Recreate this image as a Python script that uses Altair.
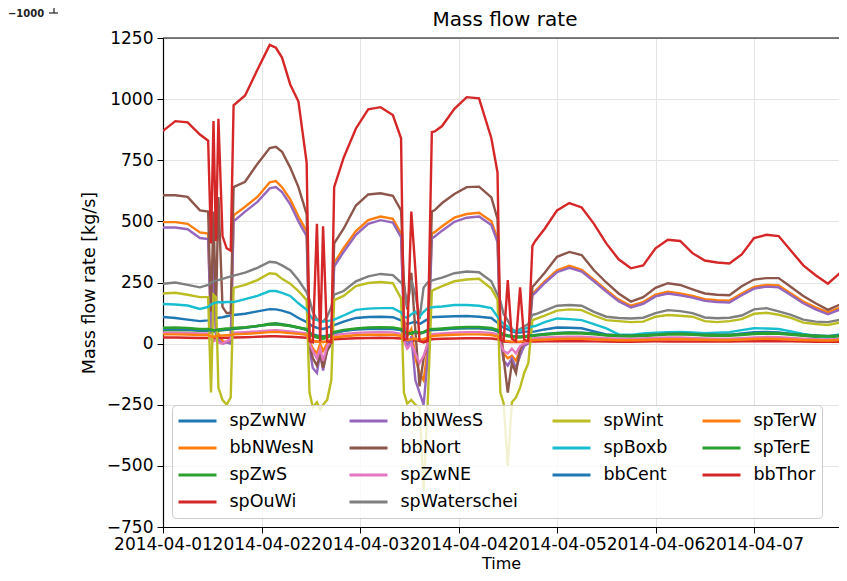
import altair as alt
import pandas as pd

# hours after 2014-04-01 00:00
HOURS = [0, 3, 6, 9, 11,
         11.7, 12.3, 12.9, 13.5, 14.5, 15.5, 16.5,
         17.2, 20, 23, 26, 27.5, 29, 31, 33, 35,
         35.7, 36.5, 37.5, 38.3, 39, 40, 41,
         41.7, 44, 47, 50, 53, 56, 58,
         58.7, 59.5, 60.5, 61.5, 62.5, 63.5, 64.5, 65.5,
         66.2, 68, 71, 74, 77, 80, 81.5,
         82.2, 83, 84, 85, 86, 87, 88, 89, 90,
         90.7, 93, 96, 99, 102, 105, 108, 111, 114, 117, 120, 123, 126, 129,
         132, 135, 138, 141, 144, 147, 150, 153, 156, 159, 162, 165, 168]

spZwNW = [109, 105, 98, 92, 95,
          100, 102, 104, 106, 108, 112, 115,
          117, 122, 132, 141, 140, 135, 125, 105, 88,
          80, 70, 65, 62, 60, 65, 72,
          76, 90, 105, 109, 110, 108, 95,
          85, 80, 85, 90, 80, 90, 100, 108,
          109, 110, 112, 113, 110, 105, 85,
          75, 65, 58, 50, 45, 45, 48, 50, 48,
          50, 58, 66, 65, 63, 50, 38, 33, 32, 35, 38, 40, 40, 38, 35, 34, 36, 42, 47, 48, 46, 40, 33, 28, 26, 32, 38]
bbNWesN = [497, 497, 490, 455, 450,
           60, 400, 50, 40, 10, 5, 10,
           525, 560, 600, 660, 665, 640, 590, 520, 460,
           10, -20, -40, 0, -30, 0, 5,
           330, 390, 460, 505, 520, 510, 450,
           100, 30, 60, -60, -120, -150, -20, 450,
           456, 480, 515, 530, 535, 500, 430,
           40, -40, -60, -50, -70, -30, 0, 5, 205,
           215, 255, 300, 318, 302, 262, 220, 180, 155, 170, 200, 212, 205, 195, 182, 178, 176, 205, 232, 240, 238, 205, 172, 148, 128, 148, 172]
spZwS = [55, 56, 55, 52, 52,
         50, 48, 50, 52, 54, 56, 58,
         60, 65, 72, 82, 84, 80, 74, 66, 55,
         40, 30, 25, 22, 20, 25, 32,
         42, 52, 60, 63, 64, 63, 55,
         45, 38, 40, 45, 40, 45, 52, 55,
         56, 58, 62, 64, 63, 58, 50,
         40, 35, 30, 28, 25, 25, 27, 28, 30,
         32, 36, 40, 42, 41, 38, 33, 30, 29, 31, 34, 37, 38, 36, 33, 32, 32, 35, 39, 41, 40, 36, 32, 29, 27, 30, 34]
spOuWi = [25, 25, 24, 23, 23,
          22, 21, 22, 23, 23, 24, 24,
          25, 26, 28, 30, 30, 29, 28, 26, 24,
          15, 10, 8, 8, 7, 8, 12,
          18, 20, 22, 23, 24, 23, 21,
          15, 12, 12, 14, 12, 13, 16, 18,
          19, 20, 21, 22, 22, 21, 18,
          12, 8, 7, 6, 6, 6, 7, 8, 8,
          8, 9, 10, 10, 10, 9, 8, 7, 7, 8, 9, 9, 9, 9, 8, 8, 8, 9, 10, 10, 10, 9, 8, 7, 7, 8, 9]
bbNWesS = [475, 475, 468, 432, 428,
           40, 380, 30, 15, 0, 5, 0,
           500, 540, 580, 635, 640, 620, 570, 500, 440,
           -20, -100, -120, -40, -110, -20, 0,
           315, 375, 445, 490, 505, 495, 435,
           80, -20, 30, -150, -200, -250, -60, 430,
           438, 462, 498, 515, 520, 485, 415,
           20, -70, -90, -60, -100, -50, -10, 0, 198,
           208, 248, 292, 310, 295, 255, 213, 173, 148, 163, 193, 205, 198, 188, 175, 170, 168, 198, 225, 233, 230, 198, 165, 140, 120, 140, 165]
bbNort = [607, 607, 600, 545, 540,
          130, 540, 120, 600, 150, 125, 125,
          640, 662, 735, 800, 805, 785, 720, 640, 530,
          0, -60, -90, -40, -100, -30, 0,
          410, 470, 565, 610, 615, 605, 545,
          250, 140, 290, 50, -175, -60, 0, 540,
          546, 575, 612, 640, 642, 598, 510,
          70, -60, -200, -80, -120, -20, 0, 10, 232,
          245, 290, 355, 375, 362, 300, 250, 205, 172, 190, 228, 247, 240, 222, 205, 200, 198, 235, 262, 268, 268, 232, 195, 165, 138, 160, 190]
spZwNE = [45, 45, 44, 42, 42,
          20, 10, 15, 5, 0, 10, 20,
          45, 47, 50, 54, 55, 53, 50, 46, 42,
          0, -30, -60, -20, -70, -10, 10,
          35, 40, 44, 46, 47, 46, 40,
          10, -20, 0, -40, -80, -50, 0, 38,
          40, 42, 45, 47, 47, 44, 38,
          0, -30, -40, -20, -40, -10, 0, 5, 20,
          22, 25, 27, 28, 28, 25, 22, 20, 19, 21, 23, 25, 25, 23, 21, 20, 20, 22, 25, 27, 26, 23, 20, 18, 17, 19, 22]
spWaterschei = [245, 250, 240, 230, 240,
                250, 255, 258, 260, 265, 270, 275,
                278, 290, 310, 335, 332, 320, 300, 260, 210,
                180, 130, 100, 95, 90, 110, 150,
                200, 215, 255, 275, 285, 280, 250,
                230, 150, 260, 200, 100, 230, 250, 258,
                262, 270, 288, 295, 292, 255, 200,
                175, 120, 95, 60, 50, 60, 70, 80, 118,
                120, 135, 155, 158, 155, 130, 110, 105, 103, 106, 125, 137, 133, 125, 107, 104, 106, 115, 140, 145, 132, 118, 98, 90, 88, 98, 110]
spWint = [205, 208, 200, 190, 190,
          -200, 200, 190, -180, -230, -250, -220,
          228, 240, 260, 288, 285, 265, 245, 215, 178,
          -200, -260, -240, -270, -250, -230, -150,
          178, 195, 235, 248, 252, 247, 185,
          -200, -245, -230, -250, -260, -600, -240, 215,
          222, 235, 255, 262, 265, 225, 180,
          -200, -245, -500, -240, -220, -180, -120, -80, 96,
          100, 115, 135, 140, 137, 115, 96, 92, 88, 90, 110, 117, 114, 110, 92, 88, 92, 100, 122, 126, 118, 105, 86, 80, 76, 86, 98]
spBoxb = [162, 160, 156, 142, 150,
          160, 165, 168, 170, 168, 170, 170,
          170, 182, 195, 215, 215, 208, 195, 165, 138,
          120, 100, 96, 92, 90, 92, 95,
          98, 115, 138, 143, 145, 145, 128,
          110, 105, 120, 130, 110, 130, 145, 148,
          150, 152, 158, 158, 155, 145, 110,
          95, 80, 70, 55, 50, 55, 60, 65, 70,
          72, 88, 103, 100, 96, 80, 62, 38, 36, 42, 45, 47, 48, 46, 43, 45, 47, 55, 63, 62, 60, 50, 40, 32, 28, 38, 45]
bbCent = [60, 60, 58, 55, 55,
          55, 54, 55, 56, 57, 58, 60,
          62, 66, 72, 78, 80, 77, 72, 65, 58,
          45, 38, 34, 32, 30, 33, 38,
          45, 52, 58, 60, 61, 60, 55,
          48, 42, 44, 48, 44, 47, 53, 56,
          57, 59, 62, 64, 64, 60, 52,
          44, 38, 34, 31, 29, 29, 30, 32, 34,
          36, 40, 44, 46, 45, 42, 37, 34, 33, 35, 38, 41, 42, 40, 37, 36, 36, 39, 43, 45, 44, 40, 36, 33, 31, 34, 38]
spTerW = [38, 38, 37, 35, 35,
          30, 28, 30, 32, 33, 34, 35,
          38, 40, 43, 47, 48, 46, 43, 40, 36,
          20, 12, 8, 10, 6, 10, 15,
          25, 30, 34, 36, 37, 36, 32,
          20, 15, 18, 20, 15, 18, 25, 30,
          32, 34, 36, 38, 38, 35, 30,
          18, 12, 10, 8, 8, 8, 10, 12, 14,
          15, 17, 19, 20, 20, 18, 16, 14, 14, 15, 17, 18, 18, 17, 16, 15, 15, 17, 19, 20, 19, 17, 15, 14, 13, 15, 17]
spTerE = [65, 66, 64, 60, 60,
          58, 55, 56, 58, 60, 62, 63,
          64, 67, 72, 78, 78, 76, 72, 66, 60,
          45, 35, 30, 28, 26, 30, 36,
          48, 56, 62, 66, 67, 66, 60,
          50, 42, 44, 50, 44, 48, 56, 60,
          60, 62, 66, 68, 68, 64, 56,
          45, 38, 34, 30, 28, 28, 30, 31, 33,
          35, 39, 43, 45, 44, 41, 36, 33, 32, 34, 37, 40, 41, 39, 36, 35, 35, 38, 42, 44, 43, 39, 35, 32, 30, 33, 37]
bbThor = [870, 910, 905, 855, 830,
          410, 910, 420, 920, 440, 390, 380,
          975, 1015, 1120, 1222, 1210, 1170, 1060, 990, 740,
          10, 5, 490, 10, 480, 10, 5,
          640, 760, 880, 958, 967, 935, 840,
          15, 20, 540, 300, 10, 5, 10, 865,
          868, 890, 960, 1008, 1003, 840, 700,
          15, 10, 260, 20, 10, 230, 15, 10, 400,
          420, 470, 545, 575, 557, 490, 410, 345, 308, 320, 390, 425, 420, 370, 340, 332, 328, 365, 432, 445, 440, 380, 320, 280, 245, 290, 330]

# drawing order (matplotlib order)
SERIES = ["spZwNW", "bbNWesN", "spZwS", "spOuWi", "bbNWesS", "bbNort", "spZwNE",
          "spWaterschei", "spWint", "spBoxb", "bbCent", "spTerW", "spTerE", "bbThor"]
VALUES = [spZwNW, bbNWesN, spZwS, spOuWi, bbNWesS, bbNort, spZwNE,
          spWaterschei, spWint, spBoxb, bbCent, spTerW, spTerE, bbThor]
COLORS = ["#1f77b4", "#ff7f0e", "#2ca02c", "#d62728", "#9467bd", "#8c564b", "#e377c2",
          "#7f7f7f", "#bcbd22", "#17becf", "#1f77b4", "#ff7f0e", "#2ca02c", "#d62728"]
Y_TICKS = [-750, -500, -250, 0, 250, 500, 750, 1000, 1250]

# order fed to the legend so that Vega's grid shows the reference's columns
LEGEND_ORDER = ["spZwNW", "bbNWesN", "spZwS", "bbThor", "bbNWesS", "bbNort", "spZwNE",
                "spOuWi", "spWint", "spBoxb", "bbCent", "spWaterschei", "spTerW", "spTerE"]
LEGEND_COLORS = [COLORS[SERIES.index(s)] for s in LEGEND_ORDER]

t0 = pd.Timestamp("2014-04-01 00:00:00")
times = [t0 + pd.Timedelta(hours=h) for h in HOURS]
rows = []
for name, vals in zip(SERIES, VALUES):
    for t, v in zip(times, vals):
        rows.append({"time": t, "series": name, "value": v})
df = pd.DataFrame(rows)

FONT = "DejaVu Sans"
W, H = 676, 489

x_enc = alt.X("time:T",
              scale=alt.Scale(domain=[alt.DateTime(year=2014, month=4, date=1, hours=0),
                                      alt.DateTime(year=2014, month=4, date=7, hours=20, minutes=42)]),
              axis=alt.Axis(title="Time", format="%Y-%m-%d",
                            values=[alt.DateTime(year=2014, month=4, date=d) for d in range(1, 8)],
                            labelOverlap=False, labelFlush=False, labelBound=False,
                            labelFontSize=17, titleFontSize=16, labelPadding=3, titlePadding=3,
                            tickSize=6, tickColor="black", domainColor="black", domainWidth=1.2,
                            labelColor="black", titleColor="black", titleFontWeight="normal",
                            gridColor="#e4e4e4", labelFont=FONT, titleFont=FONT))
y_enc = alt.Y("value:Q",
              scale=alt.Scale(domain=[-750, 1250], nice=False, zero=False),
              axis=alt.Axis(title="Mass flow rate [kg/s]", values=Y_TICKS, format="d",
                            labelFontSize=17, titleFontSize=17.5, labelPadding=4, titlePadding=8,
                            tickSize=6, tickColor="black", domainColor="black", domainWidth=1.2,
                            labelColor="black", titleColor="black", titleFontWeight="normal",
                            gridColor="#e4e4e4", labelFont=FONT, titleFont=FONT))
color_enc = alt.Color("series:N",
                      scale=alt.Scale(domain=LEGEND_ORDER, range=LEGEND_COLORS),
                      legend=alt.Legend(title=None, orient="none", legendX=9, legendY=367,
                                        columns=4, symbolType="stroke", symbolSize=1444,
                                        symbolStrokeWidth=3, clipHeight=22,
                                        labelFont=FONT, labelFontSize=17.5, labelColor="black",
                                        labelOffset=11.5, columnPadding=33, rowPadding=5,
                                        padding=5, fillColor="rgba(255,255,255,0.8)",
                                        strokeColor="#cccccc", cornerRadius=4, labelLimit=300))

base = alt.Chart(df)
layers = []
for name in SERIES:
    layers.append(
        base.transform_filter(alt.datum.series == name)
        .mark_line(strokeWidth=2.4, clip=True)
        .encode(x=x_enc, y=y_enc, color=color_enc)
    )

title_df = pd.DataFrame({"label": ["Mass flow rate"]})
title_mark = alt.Chart(title_df).mark_text(fontSize=20, font=FONT, color="black",
                                           align="center", baseline="middle").encode(
    text="label:N", x=alt.value(342), y=alt.value(-18))

# top frame line (the right edge of the frame is outside the picture)
top_line = alt.Chart(title_df).mark_rule(color="black", strokeWidth=1.2).encode(
    x=alt.value(0), x2=alt.value(W), y=alt.value(0))

art = pd.DataFrame({"label": ["\u22121000"]})
art_text = alt.Chart(art).mark_text(fontSize=10, fontWeight="bold", font=FONT, color="#222222",
                                    align="center", baseline="middle").encode(
    text="label:N", x=alt.value(-137), y=alt.value(-24.5))
art_h = alt.Chart(art).mark_rule(color="#222222", strokeWidth=1.2).encode(
    x=alt.value(-114), x2=alt.value(-105), y=alt.value(-25))
art_v = alt.Chart(art).mark_rule(color="#222222", strokeWidth=1.2).encode(
    x=alt.value(-109), y=alt.value(-40), y2=alt.value(-25))

chart = alt.layer(*layers, top_line, title_mark, art_text, art_h, art_v).properties(
    width=W, height=H,
    autosize=alt.AutoSizeParams(type="none"),
    padding={"left": 155, "top": 30, "right": 0, "bottom": 46},
).configure_view(strokeWidth=0).configure(font=FONT)

chart.save("out.html", embed_options={"renderer": "svg", "actions": False})
